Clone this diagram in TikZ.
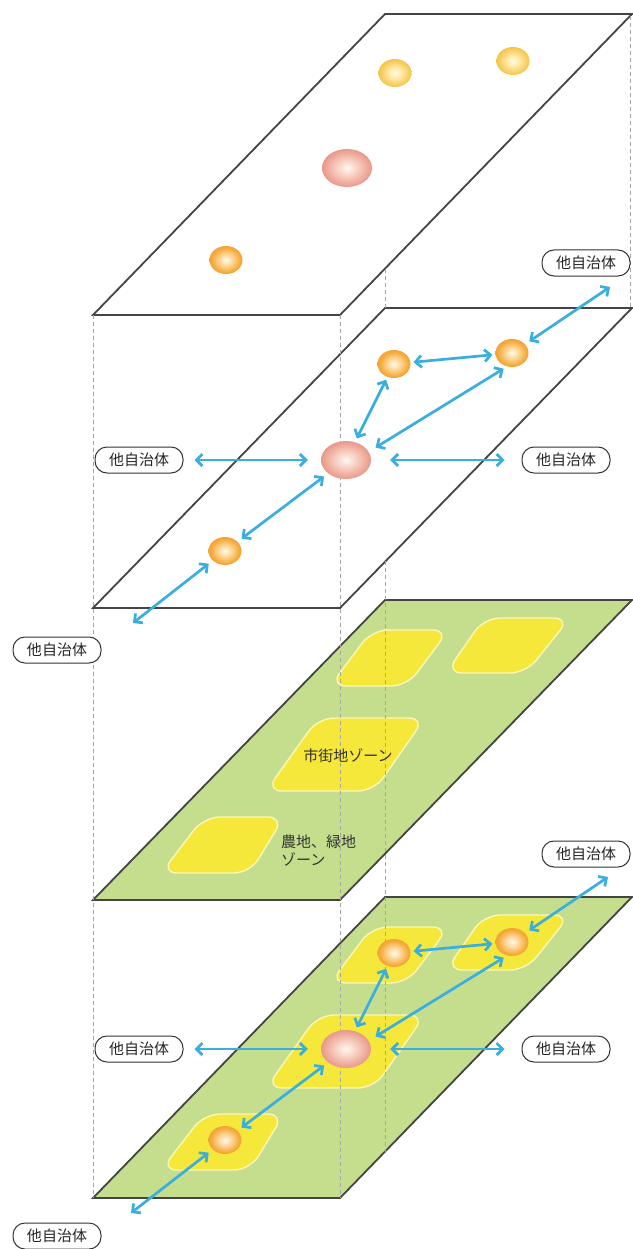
\documentclass[tikz,border=0pt]{standalone}
\usepackage{fontspec}
\newfontfamily\jp{Noto Sans CJK JP}
\usetikzlibrary{arrows.meta,shapes.geometric}
\definecolor{edge}{RGB}{68,68,68}
\definecolor{grn}{RGB}{196,222,142}
\definecolor{ylw}{RGB}{246,232,58}
\definecolor{ylwedge}{RGB}{250,247,185}
\definecolor{cyn}{RGB}{58,174,222}
\definecolor{guidec}{RGB}{165,165,165}
\pgfdeclareradialshading{orangeball}{\pgfpoint{0bp}{0bp}}{rgb(0bp)=(1,0.98,0.93); rgb(6bp)=(1,0.90,0.72); rgb(22bp)=(0.96,0.66,0.22); rgb(40bp)=(0.93,0.58,0.13); rgb(50bp)=(0.96,0.72,0.40)}
\pgfdeclareradialshading{goldball}{\pgfpoint{0bp}{0bp}}{rgb(0bp)=(1,0.98,0.90); rgb(8bp)=(1,0.93,0.70); rgb(24bp)=(0.96,0.78,0.30); rgb(42bp)=(0.92,0.68,0.20); rgb(50bp)=(0.96,0.82,0.50)}
\pgfdeclareradialshading{pinkball}{\pgfpoint{0bp}{0bp}}{rgb(0bp)=(1,0.97,0.95); rgb(8bp)=(0.98,0.85,0.80); rgb(26bp)=(0.91,0.58,0.52); rgb(44bp)=(0.88,0.52,0.48); rgb(50bp)=(0.93,0.68,0.63)}
\tikzset{
  layerline/.style={draw=edge, line width=1.8pt, line join=miter},
  zone/.style={fill=ylw, draw=ylwedge, line width=1.4pt, rounded corners=16pt},
  guideline/.style={draw=guidec, dash pattern=on 4pt off 3pt, line width=0.6pt},
  small/.style={ellipse, inner sep=0pt, minimum width=33pt, minimum height=28pt, shade, shading=orangeball},
  smallgold/.style={small, shading=goldball},
  big/.style={ellipse, inner sep=0pt, minimum width=50pt, minimum height=38pt, shade, shading=pinkball},
  lbl/.style={draw=black!80, line width=1pt, fill=white, rounded corners=12pt, minimum width=88pt, minimum height=26pt, inner sep=0pt, font=\jp\fontsize{15}{15}\selectfont, text=black!85},
  ztext/.style={font=\jp\fontsize{15}{18}\selectfont, text=black!80, inner sep=0pt},
  arr/.style={draw=cyn, line width=2.7pt, {Straight Barb[length=6pt,width=12pt]}-{Straight Barb[length=6pt,width=12pt]}}
}
\begin{document}
\begin{tikzpicture}[x=1pt,y=-1pt]
\fill[white] (0,0) rectangle (632,1249);
\useasboundingbox (0,0) rectangle (632,1249);
% layers
\filldraw[layerline, fill=white] (93,315) -- (340,315) -- (632,14) -- (385,14) -- cycle;
\filldraw[layerline, fill=white] (93,608) -- (340,608) -- (632,308) -- (385,308) -- cycle;
\filldraw[layerline, fill=grn] (93,900) -- (340,900) -- (632,600) -- (385,600) -- cycle;
\filldraw[layerline, fill=grn] (93,1198) -- (340,1198) -- (632,897) -- (385,897) -- cycle;
% zones of layer 3
\path[zone] (372,630) -- (449,630) -- (407,686) -- (330,686) -- cycle;
\path[zone] (484,618) -- (570,618) -- (526,673) -- (446,673) -- cycle;
\path[zone] (318,718) -- (425,718) -- (374,791) -- (266,791) -- cycle;
\path[zone] (204,817) -- (284,817) -- (250,873) -- (161,873) -- cycle;
% zones of layer 4
\begin{scope}[shift={(0,297)}]
\path[zone] (372,630) -- (449,630) -- (407,686) -- (330,686) -- cycle;
\path[zone] (484,618) -- (570,618) -- (526,673) -- (446,673) -- cycle;
\path[zone] (318,718) -- (425,718) -- (374,791) -- (266,791) -- cycle;
\path[zone] (204,817) -- (284,817) -- (250,873) -- (161,873) -- cycle;
\end{scope}
% vertical guides
\draw[guideline] (93,315) -- (93,1198);
\draw[guideline] (340,315) -- (340,1198);
\draw[guideline] (385,269) -- (385,308);
\draw[guideline] (385,561) -- (385,1152);
\draw[guideline] (630.5,16) -- (630.5,308);
% zone texts
\node[ztext] (zt1) at (348,756) {市街地ゾーン};
\node[ztext, align=left, anchor=north west] (zt2) at (281,835) {農地、緑地\\ゾーン};
% layer 1
\node[smallgold] (A1) at (395,73) {};
\node[smallgold] (B1) at (513,61) {};
\node[small] (C1) at (226,260) {};
\node[big] (P1) at (347,168) {};
% layer 2
\node[small] (A2) at (394,364) {};
\node[small] (B2) at (512,353) {};
\node[small] (C2) at (225,551) {};
\node[big] (P2) at (346,460) {};
\node[lbl] (tr2l) at (586,263) {他自治体};
\node[lbl] (l2l) at (139,460) {他自治体};
\node[lbl] (r2l) at (566,460) {他自治体};
\node[lbl] (bl2l) at (57,650) {他自治体};
\coordinate (tr2) at (610,287);
\coordinate (bl2) at (133,623);
\draw[arr, shorten <=3pt, shorten >=3pt] (A2) -- (B2);
\draw[arr, shorten <=3pt, shorten >=4pt] (A2) -- (P2);
\draw[arr, shorten <=4pt, shorten >=8pt] (B2.250) -- (P2.20);
\draw[arr, shorten <=11pt, shorten >=13pt] (l2l) -- (P2);
\draw[arr, shorten <=19pt, shorten >=17pt] (P2) -- (r2l);
\draw[arr, shorten <=5pt, shorten >=5pt] (P2) -- (C2);
\draw[arr, shorten <=5pt] (C2) -- (bl2);
\draw[arr, shorten <=5pt] (B2) -- (tr2);
% layer 4
\node[small] (A4) at (394,953) {};
\node[small] (B4) at (512,942) {};
\node[small] (C4) at (225,1140) {};
\node[big] (P4) at (346,1049) {};
\node[lbl] (tr4l) at (586,854) {他自治体};
\node[lbl] (l4l) at (139,1049) {他自治体};
\node[lbl] (r4l) at (566,1049) {他自治体};
\node[lbl] (bl4l) at (57,1236) {他自治体};
\coordinate (tr4) at (608,877);
\coordinate (bl4) at (131,1213);
\draw[arr, shorten <=3pt, shorten >=3pt] (A4) -- (B4);
\draw[arr, shorten <=3pt, shorten >=4pt] (A4) -- (P4);
\draw[arr, shorten <=4pt, shorten >=8pt] (B4.250) -- (P4.20);
\draw[arr, shorten <=11pt, shorten >=13pt] (l4l) -- (P4);
\draw[arr, shorten <=19pt, shorten >=17pt] (P4) -- (r4l);
\draw[arr, shorten <=5pt, shorten >=5pt] (P4) -- (C4);
\draw[arr, shorten <=5pt] (C4) -- (bl4);
\draw[arr, shorten <=5pt] (B4) -- (tr4);
\end{tikzpicture}
\end{document}
